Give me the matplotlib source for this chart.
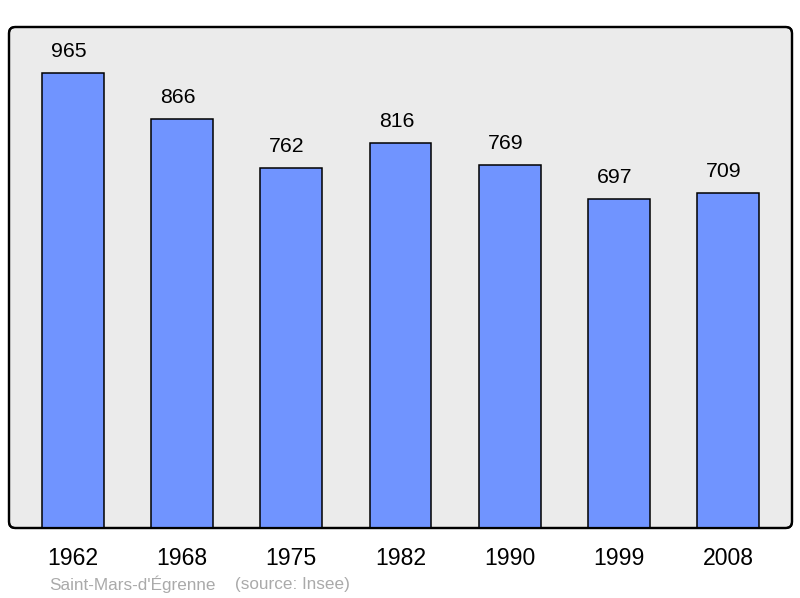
import matplotlib
matplotlib.use('Agg')
import matplotlib.pyplot as plt
from matplotlib.patches import FancyBboxPatch

years = ['1962', '1968', '1975', '1982', '1990', '1999', '2008']
population = [965, 866, 762, 816, 769, 697, 709]

plt.rcParams['font.family'] = ['Liberation Sans', 'DejaVu Sans']

fig = plt.figure(figsize=(8, 5.98), dpi=100)
ax = fig.add_axes([9 / 800, 70 / 598, 783 / 800, 501 / 598])
ax.set_facecolor('none')

x = range(len(years))
ax.bar(x, population, width=0.567, color='#7094ff', edgecolor='black',
       linewidth=1.1, zorder=2)
for i, v in zip(x, population):
    ax.annotate(str(v), (i, v), xytext=(-3, 15.5), textcoords='offset points',
                ha='center', va='center', fontsize=15.3, zorder=3)

ax.set_xlim(-0.585, len(years) - 1 + 0.585)
ax.set_ylim(0, max(population) * 1.1)
ax.set_xticks(list(x))
ax.set_xticklabels(years, fontsize=16.6)
ax.tick_params(axis='x', length=0, pad=14)
ax.set_yticks([])
for s in ax.spines.values():
    s.set_visible(False)

frame = FancyBboxPatch((0, 0), 1, 1, boxstyle='round,pad=0,rounding_size=0.008',
                       mutation_aspect=783 / 501, transform=ax.transAxes,
                       facecolor='#ebebeb', edgecolor='black', linewidth=1.6,
                       zorder=0, clip_on=False)
ax.add_patch(frame)
frame2 = FancyBboxPatch((0, 0), 1, 1, boxstyle='round,pad=0,rounding_size=0.008',
                        mutation_aspect=783 / 501, transform=ax.transAxes,
                        facecolor='none', edgecolor='black', linewidth=1.6,
                        zorder=4, clip_on=False)
ax.add_patch(frame2)

fig.text(49 / 800, 1 - 584 / 598, "Saint-Mars-d'Égrenne", color='#aaaaaa',
         fontsize=12.3, va='center', ha='left')
fig.text(235 / 800, 1 - 584 / 598, '(source: Insee)', color='#aaaaaa',
         fontsize=12.3, va='center', ha='left')

fig.savefig('out.png', dpi=100, facecolor='white')
